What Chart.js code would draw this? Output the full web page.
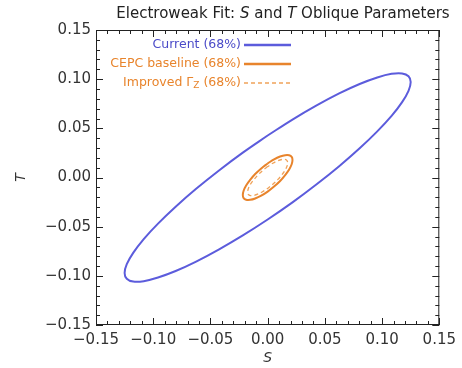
<!DOCTYPE html>
<html>
<head>
<meta charset="utf-8">
<title>Electroweak Fit: S and T Oblique Parameters</title>
<script src="https://cdn.jsdelivr.net/npm/chart.js@4"></script>
<style>
  html, body { margin: 0; padding: 0; background: #fff; }
  #chartBox { width: 462px; height: 368px; }
</style>
</head>
<body>
<div id="chartBox"><canvas id="stChart" width="462" height="368"></canvas></div>
<script>
// --- contour points (S, T) ---
const currentS = [0, -0.0217, -0.0428, -0.0625, -0.0804, -0.0958, -0.1083, -0.1175, -0.1231, -0.125, -0.1231, -0.1175, -0.1083, -0.0958, -0.0804, -0.0625, -0.0428, -0.0217, 0, 0.0217, 0.0428, 0.0625, 0.0804, 0.0958, 0.1083, 0.1175, 0.1231, 0.125, 0.1231, 0.1175, 0.1083, 0.0958, 0.0804, 0.0625, 0.0428, 0.0217];
const currentT = [0.0427, 0.0253, 0.0069, -0.0115, -0.0297, -0.0469, -0.0626, -0.0766, -0.0881, -0.0970, -0.1029, -0.1058, -0.1054, -0.1017, -0.0951, -0.0855, -0.0733, -0.0589, -0.0427, -0.0253, -0.0069, 0.0115, 0.0297, 0.0469, 0.0626, 0.0766, 0.0881, 0.0970, 0.1029, 0.1058, 0.1054, 0.1017, 0.0951, 0.0855, 0.0733, 0.0589];

const cepcS = [0, -0.0056, -0.0109, -0.0153, -0.0188, -0.0210, -0.0217, -0.0210, -0.0188, -0.0153, -0.0109, -0.0056, 0, 0.0056, 0.0109, 0.0153, 0.0188, 0.0210, 0.0217, 0.0210, 0.0188, 0.0153, 0.0109, 0.0056];
const cepcT = [0.0143, 0.0092, 0.0035, -0.0025, -0.0082, -0.0135, -0.0178, -0.0209, -0.0226, -0.0227, -0.0213, -0.0184, -0.0143, -0.0092, -0.0035, 0.0025, 0.0082, 0.0135, 0.0178, 0.0209, 0.0226, 0.0227, 0.0213, 0.0184];

const gammaS = [0, -0.0045, -0.0088, -0.0124, -0.0152, -0.0169, -0.0175, -0.0169, -0.0152, -0.0124, -0.0088, -0.0045, 0, 0.0045, 0.0088, 0.0124, 0.0152, 0.0169, 0.0175, 0.0169, 0.0152, 0.0124, 0.0088, 0.0045];
const gammaT = [0.0111, 0.0069, 0.0022, -0.0027, -0.0072, -0.0114, -0.0148, -0.0172, -0.0184, -0.0183, -0.0170, -0.0145, -0.0111, -0.0069, -0.0022, 0.0027, 0.0072, 0.0114, 0.0148, 0.0172, 0.0184, 0.0183, 0.0170, 0.0145];

const tickValues = [-0.15, -0.1, -0.05, 0, 0.05, 0.1, 0.15];
const minorStep = 0.01;

const blueInk = "#5c5cdc";
const orangeInk = "#e8842c";
const paleOrange = "#f0a35a";
const axisInk = "#333";

function toLoop(xs, ys) {
  const pts = xs.map((x, i) => ({ x: x, y: ys[i] }));
  pts.push({ x: xs[0], y: ys[0] });
  return pts;
}

function fmtTick(v) {
  if (Math.abs(v) < 1e-9) return "0.00";
  return (v < 0 ? "\u2212" : "") + Math.abs(v).toFixed(2);
}

// --- title with italic S and T ---
const titlePlugin = {
  id: "stTitle",
  afterDraw(chart) {
    const ctx = chart.ctx;
    const parts = [
      ["Electroweak Fit: ", "normal"],
      ["S", "italic"],
      [" and ", "normal"],
      ["T", "italic"],
      [" Oblique Parameters", "normal"],
    ];
    const fontFor = (st) => `${st} 15px "DejaVu Sans", sans-serif`;
    let total = 0;
    parts.forEach(([t, st]) => { ctx.font = fontFor(st); total += ctx.measureText(t).width; });
    let x = 283 - total / 2;
    ctx.save();
    ctx.fillStyle = "#222";
    ctx.textBaseline = "middle";
    parts.forEach(([t, st]) => {
      ctx.font = fontFor(st);
      ctx.fillText(t, x, 14);
      x += ctx.measureText(t).width;
    });
    ctx.restore();
  },
};

// --- frame with inward major/minor ticks, Mathematica style ---
const framePlugin = {
  id: "stFrame",
  afterDatasetsDraw(chart) {
    const { ctx, chartArea: a, scales } = chart;
    const xs = scales.x, ys = scales.y;
    ctx.save();
    ctx.strokeStyle = "#222";
    ctx.lineWidth = 1;
    ctx.strokeRect(a.left + 0.5, a.top + 0.5, a.right - a.left - 1, a.bottom - a.top - 1);
    ctx.beginPath();
    for (let k = -15; k <= 15; k++) {
      const v = k * minorStep;
      const len = k % 5 === 0 ? 7 : 4;
      const px = Math.round(xs.getPixelForValue(v)) + 0.5;
      const py = Math.round(ys.getPixelForValue(v)) + 0.5;
      ctx.moveTo(px, a.bottom); ctx.lineTo(px, a.bottom - len);
      ctx.moveTo(px, a.top); ctx.lineTo(px, a.top + len);
      ctx.moveTo(a.left, py); ctx.lineTo(a.left + len, py);
      ctx.moveTo(a.right, py); ctx.lineTo(a.right - len, py);
    }
    ctx.stroke();
    ctx.restore();
  },
};

// --- legend inside the frame, text right-aligned to the line samples ---
const legendPlugin = {
  id: "stLegend",
  afterDraw(chart) {
    const ctx = chart.ctx;
    const rows = [
      { parts: [["Current (68%)", 12.5, 0]], color: "#4b4bc8", ds: 0 },
      { parts: [["CEPC baseline (68%)", 12.5, 0]], color: orangeInk, ds: 1 },
      { parts: [["Improved \u0393", 12.5, 0], ["Z", 9, 3], [" (68%)", 12.5, 0]], color: orangeInk, ds: 2 },
    ];
    const textRight = 241, lineFrom = 244, lineTo = 291;
    const rowY = [45, 64, 83];
    ctx.save();
    ctx.textBaseline = "middle";
    rows.forEach((row, i) => {
      let total = 0;
      row.parts.forEach(([t, sz]) => { ctx.font = `${sz}px "DejaVu Sans", sans-serif`; total += ctx.measureText(t).width; });
      let x = textRight - total;
      ctx.fillStyle = row.color;
      row.parts.forEach(([t, sz, dy]) => {
        ctx.font = `${sz}px "DejaVu Sans", sans-serif`;
        ctx.fillText(t, x, rowY[i] + dy);
        x += ctx.measureText(t).width;
      });
      const ds = chart.data.datasets[row.ds];
      ctx.strokeStyle = ds.borderColor;
      ctx.lineWidth = ds.borderWidth + (ds.borderDash ? 0 : 0.5);
      ctx.setLineDash(ds.borderDash || []);
      ctx.beginPath();
      ctx.moveTo(lineFrom, rowY[i]);
      ctx.lineTo(lineTo, rowY[i]);
      ctx.stroke();
      ctx.setLineDash([]);
    });
    ctx.restore();
  },
};

const tickFont = { family: '"DejaVu Sans", sans-serif', size: 15 };

new Chart(document.getElementById("stChart"), {
  type: "scatter",
  data: {
    datasets: [
      {
        label: "Current (68%)",
        data: toLoop(currentS, currentT),
        borderColor: blueInk,
        borderWidth: 2,
      },
      {
        label: "CEPC baseline (68%)",
        data: toLoop(cepcS, cepcT),
        borderColor: orangeInk,
        borderWidth: 2,
      },
      {
        label: "Improved \u0393Z (68%)",
        data: toLoop(gammaS, gammaT),
        borderColor: paleOrange,
        borderWidth: 1.3,
        borderDash: [4, 3],
      },
    ].map((d) => Object.assign(d, { showLine: true, pointRadius: 0, tension: 0.35, fill: false })),
  },
  options: {
    responsive: false,
    animation: false,
    devicePixelRatio: 1,
    layout: { padding: { top: 30, right: 21, bottom: 0, left: 0 } },
    plugins: { legend: { display: false }, title: { display: false }, tooltip: { enabled: false } },
    scales: {
      x: {
        type: "linear",
        min: -0.15,
        max: 0.15,
        afterBuildTicks: (s) => { s.ticks = tickValues.map((v) => ({ value: v })); },
        afterFit: (s) => { s.height = 43; },
        grid: { display: false, drawTicks: false },
        border: { display: false },
        ticks: { color: axisInk, font: tickFont, padding: 6, maxRotation: 0, callback: fmtTick },
        title: {
          display: true,
          text: "S",
          color: axisInk,
          font: { family: '"DejaVu Sans", sans-serif', size: 14, style: "italic" },
          padding: { top: 0, bottom: 1 },
        },
      },
      y: {
        type: "linear",
        min: -0.15,
        max: 0.15,
        afterBuildTicks: (s) => { s.ticks = tickValues.map((v) => ({ value: v })); },
        afterFit: (s) => { s.width = 96; },
        grid: { display: false, drawTicks: false },
        border: { display: false },
        ticks: { color: axisInk, font: tickFont, padding: 5, callback: fmtTick },
        title: {
          display: true,
          text: "T",
          color: axisInk,
          font: { family: '"DejaVu Sans", sans-serif', size: 14, style: "italic" },
          padding: { top: 13, bottom: 0 },
        },
      },
    },
  },
  plugins: [titlePlugin, framePlugin, legendPlugin],
});
</script>
</body>
</html>
